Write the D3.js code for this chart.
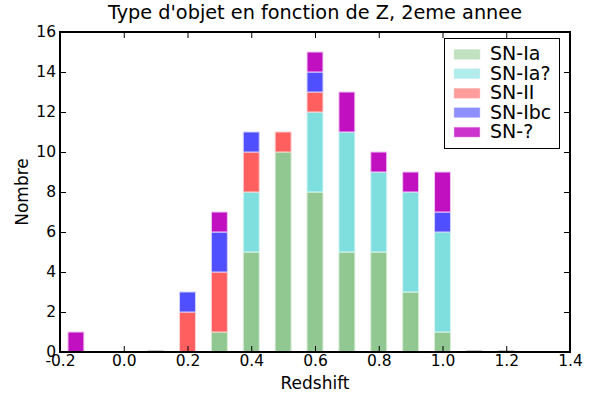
<!DOCTYPE html>
<html><head><meta charset="utf-8">
<script src="https://cdn.jsdelivr.net/npm/d3@7"></script>
<style>body{margin:0;background:#fff}svg{display:block;font-family:"DejaVu Sans",sans-serif}</style>
</head><body><svg id="c" width="600" height="400"></svg>
<script>
const centers = [-0.15, 0.1, 0.2, 0.3, 0.4, 0.5, 0.6, 0.7, 0.8, 0.9, 1.0, 1.1, 1.2];
const seriesNames = ["SN-Ia", "SN-Ia?", "SN-II", "SN-Ibc", "SN-?"];
const snIa     = [0, 0, 0, 1, 5, 10, 8, 5, 5, 3, 1, 0, 0];
const snIaQ    = [0, 0, 0, 0, 3, 0, 4, 6, 4, 5, 5, 0, 0];
const snII     = [0, 0, 2, 3, 2, 1, 1, 0, 0, 0, 0, 0, 0];
const snIbc    = [0, 0, 1, 2, 1, 0, 1, 0, 0, 0, 1, 0, 0];
const snUnk    = [1, 0, 0, 1, 0, 0, 1, 2, 1, 1, 2, 0, 0];
const barColors = ["#91c891", "#7fdfdf", "#ff5f5f", "#4f4fff", "#c010c0"];
const edgeColors = ["#d8ecd8", "#d4f4f4", "#ffd0d0", "#d0d0ff", "#f0c8f0"];
const legendColors = ["#c0e2c0", "#b2ecec", "#ff9c9c", "#8f8fff", "#cc33cc"];
const xTicks = [-0.2, 0.0, 0.2, 0.4, 0.6, 0.8, 1.0, 1.2, 1.4];
const yTicks = [0, 2, 4, 6, 8, 10, 12, 14, 16];
const binWidth = 0.05;

const svg = d3.select("#c");
const L = 60, R = 570, T = 32, B = 352;
const x = d3.scaleLinear().domain([-0.2, 1.4]).range([L, R]);
const y = d3.scaleLinear().domain([0, 16]).range([B, T]);

const rows = centers.map((c, i) => ({c, "SN-Ia": snIa[i], "SN-Ia?": snIaQ[i], "SN-II": snII[i], "SN-Ibc": snIbc[i], "SN-?": snUnk[i]}));
const stack = d3.stack().keys(seriesNames)(rows);

const totals = rows.map((r,i)=>snIa[i]+snIaQ[i]+snII[i]+snIbc[i]+snUnk[i]);
svg.append("g").selectAll("line").data(centers.filter((c,i)=>totals[i]===0)).join("line")
  .attr("x1", d=>x(d-binWidth/2)).attr("x2", d=>x(d+binWidth/2))
  .attr("y1", y(0)-1).attr("y2", y(0)-1)
  .attr("stroke", "#999").attr("stroke-width", 1);

stack.forEach((layer, k) => {
  svg.append("g").selectAll("rect").data(layer.filter(d => d[1] > d[0])).join("rect")
    .attr("x", d => x(d.data.c - binWidth/2))
    .attr("width", d => x(d.data.c + binWidth/2) - x(d.data.c - binWidth/2))
    .attr("y", d => y(d[1]))
    .attr("height", d => y(d[0]) - y(d[1]))
    .attr("fill", barColors[k])
    .attr("stroke", edgeColors[k]).attr("stroke-width", 1);
});

const tl = 6;
const axB = d3.axisBottom(x).tickValues(xTicks).tickFormat(d3.format(".1f")).tickSizeInner(-tl).tickSizeOuter(0).tickPadding(3);
const axT = d3.axisTop(x).tickValues(xTicks).tickFormat("").tickSizeInner(-tl).tickSizeOuter(0);
const axL = d3.axisLeft(y).tickValues(yTicks).tickFormat(d3.format("d")).tickSizeInner(-tl).tickSizeOuter(0).tickPadding(4);
const axR = d3.axisRight(y).tickValues(yTicks).tickFormat("").tickSizeInner(-tl).tickSizeOuter(0);

function style(g){
  g.select(".domain").remove();
  g.selectAll("line").attr("stroke", "#000").attr("stroke-width", 1);
  g.selectAll("text").attr("fill", "#000").style("font-size", "15.5px").style("font-family", "DejaVu Sans");
}
svg.append("g").attr("transform", `translate(0,${B})`).call(axB).call(style);
svg.append("g").attr("transform", `translate(0,${T})`).call(axT).call(style);
svg.append("g").attr("transform", `translate(${L},0)`).call(axL).call(style);
svg.append("g").attr("transform", `translate(${R},0)`).call(axR).call(style);
svg.selectAll("g text").filter(function(){return this.textContent.startsWith("−");}).text(function(){return this.textContent.replace("−","-");});

svg.append("rect").attr("x", L).attr("y", T).attr("width", R-L).attr("height", B-T)
  .attr("fill", "none").attr("stroke", "#000").attr("stroke-width", 2);

svg.append("text").attr("x", (L+R)/2).attr("y", 19).attr("text-anchor", "middle")
  .style("font-size", "19.3px").text("Type d'objet en fonction de Z, 2eme annee");
svg.append("text").attr("x", (L+R)/2).attr("y", 389).attr("text-anchor", "middle")
  .style("font-size", "17px").text("Redshift");
svg.append("text").attr("transform", `translate(28,${(T+B)/2}) rotate(-90)`).attr("text-anchor", "middle")
  .style("font-size", "17px").text("Nombre");

const lg = svg.append("g");
lg.append("rect").attr("x", 444.5).attr("y", 38.5).attr("width", 115).attr("height", 110)
  .attr("fill", "#fff").attr("stroke", "#000").attr("stroke-width", 1);
seriesNames.forEach((n, i) => {
  const cy = 54.3 + i * 19.45;
  lg.append("rect").attr("x", 454).attr("y", cy - 5).attr("width", 26).attr("height", 10)
    .attr("fill", legendColors[i]).attr("stroke", edgeColors[i]).attr("stroke-width", 0.5);
  lg.append("text").attr("x", 490).attr("y", cy + 6).style("font-size", "19px").text(n);
});
</script></body></html>
